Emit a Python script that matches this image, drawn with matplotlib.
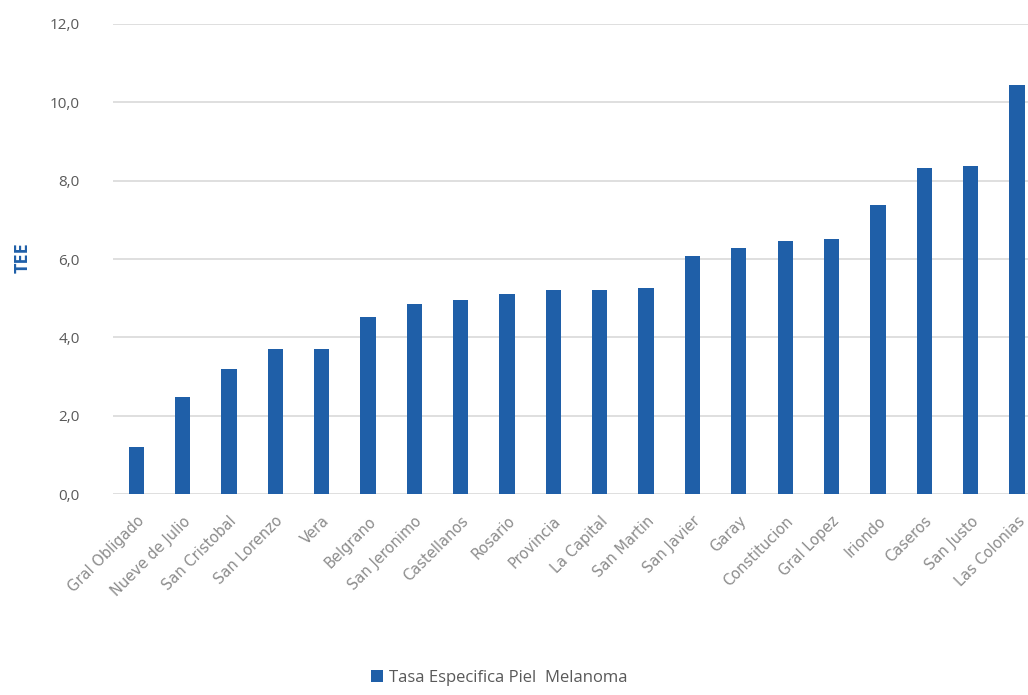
import numpy as np
import matplotlib
matplotlib.use("Agg")
import matplotlib.pyplot as plt
from matplotlib.ticker import FuncFormatter

departamentos = ["Gral Obligado", "Nueve de Julio", "San Cristobal", "San Lorenzo", "Vera",
                 "Belgrano", "San Jeronimo", "Castellanos", "Rosario", "Provincia",
                 "La Capital", "San Martin", "San Javier", "Garay", "Constitucion",
                 "Gral Lopez", "Iriondo", "Caseros", "San Justo", "Las Colonias"]
tasas = [1.2, 2.48, 3.19, 3.70, 3.70, 4.52, 4.85, 4.95, 5.11, 5.21,
         5.21, 5.26, 6.08, 6.28, 6.46, 6.51, 7.38, 8.32, 8.37, 10.44]
y_ticks = [0, 2, 4, 6, 8, 10, 12]

plt.rcParams['font.family'] = ['Open Sans', 'DejaVu Sans']

fig = plt.figure(figsize=(10.28, 6.95), dpi=100)
ax = fig.add_axes([0.110, 0.289, 0.895, 0.6765])

x = np.arange(len(departamentos))
ax.bar(x, tasas, width=0.33, color='#1f5fa8', label='Tasa Especifica Piel  Melanoma', zorder=3)

ax.set_xlim(-0.5, 19.35)
ax.set_ylim(0, 12)
ax.set_yticks(y_ticks)
ax.yaxis.set_major_formatter(FuncFormatter(lambda v, p: f"{v:.1f}".replace('.', ',')))
ax.grid(axis='y', color='#d9d9d9', linewidth=1.2, zorder=0)
for s in ax.spines.values():
    s.set_visible(False)
ax.tick_params(axis='both', length=0, colors='#595959', labelsize=11)
ax.tick_params(axis='y', pad=24)

ax.set_xticks(x)
ax.set_xticklabels(departamentos, rotation=45, ha='right', rotation_mode='anchor',
                   color='#8c8c8c', fontsize=10.5, family=['DejaVu Sans'])
ax.tick_params(axis='x', pad=14)

fig.text(0.022, 0.63, 'TEE', color='#1f5fa8', fontweight='bold', fontsize=13,
         rotation=90, ha='center', va='center')

ax.legend(loc='lower center', bbox_to_anchor=(0.42, -0.44), frameon=False,
          fontsize=12, handlelength=0.7, handleheight=0.7, handletextpad=0.4,
          labelcolor='#595959')

fig.savefig('out.png', dpi=100)
